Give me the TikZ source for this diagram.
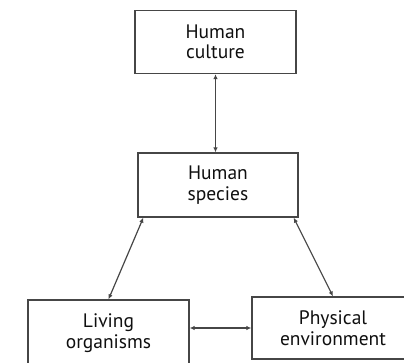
\documentclass[tikz,border=0pt]{standalone}
\usepackage{fontspec}
\setmainfont{PT Sans}
\usetikzlibrary{arrows.meta,positioning}
\definecolor{boxgray}{RGB}{70,70,70}
\definecolor{txtgray}{RGB}{15,15,15}

\begin{document}
\begin{tikzpicture}[x=1pt,y=-1pt,
  box/.style={draw=boxgray,line width=1.3pt,align=center,text=txtgray,
    font=\fontsize{19.5}{20.5}\selectfont,inner sep=0pt},
  link/.style={{Latex[length=5pt,width=4.5pt]}-{Latex[length=5pt,width=4.5pt]},draw=boxgray,line width=1.2pt}]
\useasboundingbox (0,0) rectangle (404,362);
\node[box,minimum width=161pt,minimum height=63pt] (hc) at (215.5,42) {Human\\culture};
\node[box,minimum width=160pt,minimum height=64pt] (hs) at (218,185) {Human\\species};
\node[box,minimum width=161pt,minimum height=66pt] (lo) at (108.5,333) {Living\\organisms};
\node[box,minimum width=162pt,minimum height=62pt] (pe) at (333,328) {Physical\\environment};
\draw[link] (hc.south) -- (hc.south |- hs.north);
\draw[link] ([xshift=6pt]hs.south west) -- (lo.north);
\draw[link] ([xshift=-5pt]hs.south east) -- (pe.north);
\draw[link] (lo.east |- pe.west) -- (pe.west);
\end{tikzpicture}
\end{document}
